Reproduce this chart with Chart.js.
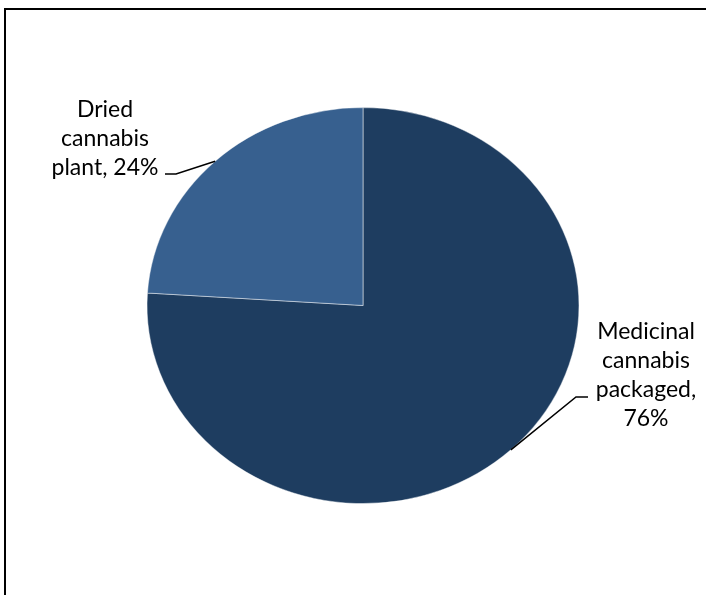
<!DOCTYPE html>
<html>
<head>
<meta charset="utf-8">
<script src="https://cdn.jsdelivr.net/npm/chart.js@4"></script>
<style>
  html, body { margin: 0; padding: 0; background: #fff; }
  #wrap { position: relative; width: 706px; height: 595px; overflow: hidden; }
  #frame { position: absolute; left: 4px; top: 8px; width: 720px; height: 620px;
           border-left: 2px solid #000; border-top: 2px solid #000; }
  canvas { position: absolute; left: 0; top: 0; }
</style>
</head>
<body>
<div id="wrap">
  <div id="frame"></div>
  <canvas id="pieChart" width="706" height="595"></canvas>
</div>
<script>
var categories = ["Medicinal cannabis packaged", "Dried cannabis plant"];
var shares = [76, 24];
var colors = ["#1e3d60", "#37608f"];

// where each label sits (centre x, first baseline) and the elbow of its leader line
var labelPos = [
    { x: 646, y: 339, lineX1: 588, lineX2: 576, lineY: 397 },
    { x: 105, y: 117, lineX1: 165, lineX2: 176, lineY: 174 }
];
var stretchX = 216 / 198;   // the original pie is a little wider than tall
var font = "23px Lato";

function wrapText(ctx, text, maxWidth) {
    var words = text.split(" ");
    var lines = [];
    var cur = "";
    words.forEach(function (w) {
        var test = cur ? cur + " " + w : w;
        if (cur && ctx.measureText(test).width > maxWidth) {
            lines.push(cur);
            cur = w;
        } else {
            cur = test;
        }
    });
    if (cur) lines.push(cur);
    return lines;
}

var ellipsePlugin = {
    id: "ellipse",
    beforeDatasetsDraw: function (chart) {
        var arc = chart.getDatasetMeta(0).data[0];
        var ctx = chart.ctx;
        ctx.save();
        ctx.translate(arc.x, arc.y);
        ctx.scale(stretchX, 1);
        ctx.translate(-arc.x, -arc.y);
    },
    afterDatasetsDraw: function (chart) {
        chart.ctx.restore();
    }
};

var labelPlugin = {
    id: "pieLabels",
    afterDraw: function (chart) {
        var ctx = chart.ctx;
        var arcs = chart.getDatasetMeta(0).data;
        ctx.save();
        ctx.font = font;
        ctx.fillStyle = "#000";
        ctx.textAlign = "center";
        ctx.textBaseline = "alphabetic";
        arcs.forEach(function (arc, i) {
            var p = labelPos[i];
            var lines = wrapText(ctx, categories[i] + ", " + shares[i] + "%", 120);
            lines.forEach(function (ln, k) {
                ctx.fillText(ln, p.x, p.y + k * 29);
            });
            var mid = (arc.startAngle + arc.endAngle) / 2;
            var ex = arc.x + stretchX * arc.outerRadius * Math.cos(mid);
            var ey = arc.y + arc.outerRadius * Math.sin(mid);
            ctx.beginPath();
            ctx.strokeStyle = "#000";
            ctx.lineWidth = 1.5;
            ctx.moveTo(p.lineX1, p.lineY);
            ctx.lineTo(p.lineX2, p.lineY);
            ctx.lineTo(ex, ey);
            ctx.stroke();
        });
        ctx.restore();
    }
};

var ctx = document.getElementById("pieChart").getContext("2d");
var chart = new Chart(ctx, {
    type: "pie",
    data: {
        labels: categories,
        datasets: [
            {
                data: shares,
                backgroundColor: colors,
                borderColor: "rgba(255,255,255,0.45)",
                borderWidth: 1
            }
        ]
    },
    options: {
        responsive: false,
        animation: false,
        layout: { padding: { top: 107, bottom: 91, left: 100, right: 80 } },
        plugins: {
            legend: { display: false },
            tooltip: { enabled: false }
        }
    },
    plugins: [ellipsePlugin, labelPlugin]
});
</script>
</body>
</html>
